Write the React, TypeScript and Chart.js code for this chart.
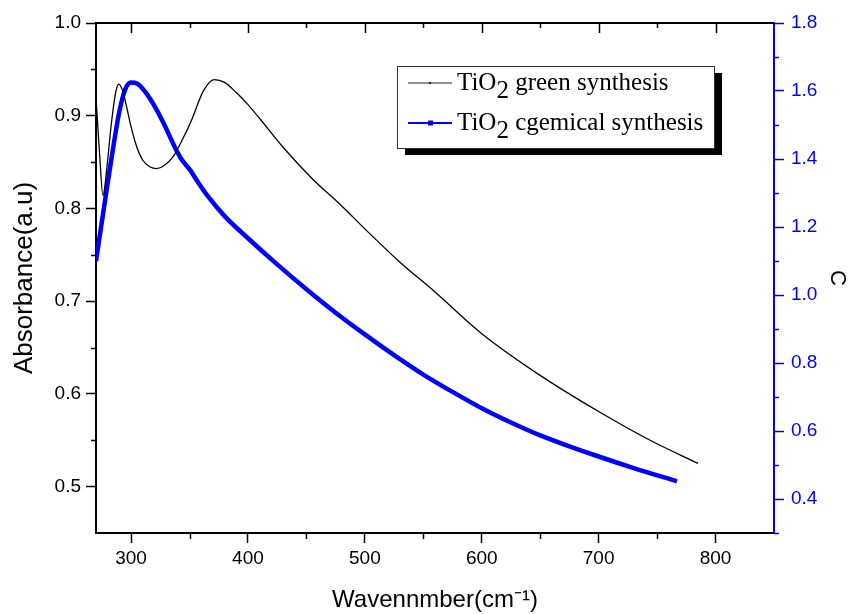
import React, { useEffect, useRef } from 'react';
import { Chart, registerables } from 'chart.js';

Chart.register(...registerables);

// ---- data ----
const greenWavenumber = [270, 273, 276, 279, 283, 287, 289.5, 293, 300, 305, 310, 316, 322, 328, 336, 343, 351, 362, 371, 380, 390, 400, 410, 430, 455, 480, 500, 530, 560, 600, 650, 700, 744, 785];
const greenAbsorbance = [0.92, 0.86, 0.814, 0.84, 0.89, 0.926, 0.934, 0.926, 0.888, 0.866, 0.852, 0.845, 0.843, 0.846, 0.856, 0.872, 0.893, 0.927, 0.939, 0.936, 0.925, 0.912, 0.897, 0.866, 0.832, 0.803, 0.778, 0.742, 0.71, 0.665, 0.62, 0.581, 0.55, 0.525];

const chemWavenumber = [270, 275, 280, 285, 290, 295, 300, 305, 312, 322, 330, 336, 343, 351, 358, 366, 380, 400, 425, 450, 475, 500, 525, 550, 575, 600, 625, 650, 675, 700, 730, 767];
const chemC = [1.10, 1.215, 1.33, 1.44, 1.54, 1.605, 1.625, 1.622, 1.598, 1.544, 1.49, 1.445, 1.40, 1.365, 1.328, 1.289, 1.232, 1.167, 1.09, 1.017, 0.948, 0.884, 0.823, 0.766, 0.715, 0.667, 0.625, 0.587, 0.555, 0.525, 0.491, 0.452];

const seriesNames = ['green synthesis', 'cgemical synthesis'];
const xTickLabels = ['300', '400', '500', '600', '700', '800'];
const yTickLabels = ['0.5', '0.6', '0.7', '0.8', '0.9', '1.0'];
const cTickLabels = ['0.4', '0.6', '0.8', '1.0', '1.2', '1.4', '1.6', '1.8'];
const xMinorTicks = [350, 450, 550, 650, 750];
const yMinorTicks = [0.55, 0.65, 0.75, 0.85, 0.95];
const cMinorTicks = [0.3, 0.5, 0.7, 0.9, 1.1, 1.3, 1.5, 1.7];

const xTitle = 'Wavennmber(cm\u207B\u00B9)';
const yTitle = 'Absorbance(a.u)';
const cTitle = 'C';

const BLUE = '#0000ff';
const TICK_FONT = '"Liberation Sans", Arial, sans-serif';
const TITLE_FONT = '"Liberation Sans", Arial, sans-serif';

// label for a tick value if it is one of the listed labels (exact match at the given step)
const labelFor = (v: number, list: string[], step: number, digits: number) => {
  const k = v / step;
  if (Math.abs(k - Math.round(k)) > 1e-6) return '';
  const s = v.toFixed(digits);
  return list.includes(s) ? s : '';
};

const axisDecor = {
  id: 'axisDecor',
  afterDatasetsDraw(chart: any) {
    const { ctx, chartArea: a, scales } = chart;
    const x = scales.x, y = scales.y, y1 = scales.y1;
    ctx.save();
    ctx.strokeStyle = '#000';
    ctx.lineWidth = 2;
    ctx.beginPath();
    ctx.moveTo(a.left - 1, a.top);
    ctx.lineTo(a.right, a.top);
    ctx.stroke();
    ctx.lineWidth = 1.5;
    ctx.beginPath();
    xTickLabels.forEach((l) => {
      const p = Math.round(x.getPixelForValue(Number(l))) + 0.5;
      ctx.moveTo(p, a.top);
      ctx.lineTo(p, a.top + 10);
    });
    xMinorTicks.forEach((v) => {
      const p = Math.round(x.getPixelForValue(v)) + 0.5;
      ctx.moveTo(p, a.top);
      ctx.lineTo(p, a.top + 5);
      ctx.moveTo(p, a.bottom);
      ctx.lineTo(p, a.bottom + 6);
    });
    yMinorTicks.forEach((v) => {
      const p = Math.round(y.getPixelForValue(v)) + 0.5;
      ctx.moveTo(a.left, p);
      ctx.lineTo(a.left - 5, p);
    });
    ctx.stroke();
    ctx.strokeStyle = BLUE;
    ctx.beginPath();
    cMinorTicks.forEach((v) => {
      const p = Math.round(y1.getPixelForValue(v)) + 0.5;
      ctx.moveTo(a.right, p);
      ctx.lineTo(a.right + 5, p);
    });
    ctx.stroke();
    ctx.restore();
  },
};

const boxLegend = {
  id: 'boxLegend',
  afterDraw(chart: any) {
    const { ctx } = chart;
    const bx = 397, by = 66, bw = 317, bh = 82;
    ctx.save();
    ctx.fillStyle = '#000';
    ctx.fillRect(bx + 8, by + 7, bw, bh);
    ctx.fillStyle = '#fff';
    ctx.fillRect(bx, by, bw, bh);
    ctx.strokeStyle = '#333';
    ctx.lineWidth = 1;
    ctx.strokeRect(bx + 0.5, by + 0.5, bw, bh);
    const rows = [by + 17, by + 57];
    const colors = ['#222', BLUE];
    rows.forEach((ry, i) => {
      ctx.strokeStyle = colors[i];
      ctx.lineWidth = i === 0 ? 1.2 : 2;
      ctx.beginPath();
      ctx.moveTo(bx + 11, ry);
      ctx.lineTo(bx + 55, ry);
      ctx.stroke();
      ctx.fillStyle = colors[i];
      if (i === 0) ctx.fillRect(bx + 32, ry - 1, 2, 2);
      else ctx.fillRect(bx + 31, ry - 2.5, 5, 5);
      ctx.fillStyle = '#000';
      ctx.font = '25px "Liberation Serif", "Times New Roman", serif';
      ctx.textBaseline = 'alphabetic';
      let tx = bx + 60;
      const base = ry + 7;
      ctx.fillText('TiO', tx, base);
      tx += ctx.measureText('TiO').width;
      ctx.fillText('2', tx, base + 8);
      tx += ctx.measureText('2').width;
      ctx.fillText(' ' + seriesNames[i], tx, base);
    });
    ctx.restore();
  },
};

export default function App() {
  const ref = useRef<HTMLCanvasElement | null>(null);

  useEffect(() => {
    if (!ref.current) return;
    const chart = new Chart(ref.current, {
      type: 'line',
      data: {
        datasets: [
          {
            label: 'TiO2 ' + seriesNames[0],
            data: greenWavenumber.map((v, i) => ({ x: v, y: greenAbsorbance[i] })),
            borderColor: '#000',
            borderWidth: 1.3,
            pointRadius: 0,
            cubicInterpolationMode: 'monotone',
            yAxisID: 'y',
          },
          {
            label: 'TiO2 ' + seriesNames[1],
            data: chemWavenumber.map((v, i) => ({ x: v, y: chemC[i] })),
            borderColor: BLUE,
            borderWidth: 4.5,
            pointRadius: 0,
            cubicInterpolationMode: 'monotone',
            yAxisID: 'y1',
          },
        ],
      },
      options: {
        animation: false,
        responsive: false,
        devicePixelRatio: 1,
        layout: { padding: { top: 23, left: 0, right: 0, bottom: 0 } },
        plugins: { legend: { display: false }, tooltip: { enabled: false } },
        scales: {
          x: {
            type: 'linear',
            min: 270,
            max: 850,
            afterFit: (s: any) => { s.height = 81; },
            ticks: {
              stepSize: 50,
              includeBounds: false,
              autoSkip: false,
              maxRotation: 0,
              padding: 4,
              color: '#000',
              font: { family: TICK_FONT, size: 19 },
              callback: (v: any) => labelFor(Number(v), xTickLabels, 100, 0),
            },
            grid: {
              drawOnChartArea: false,
              drawTicks: true,
              tickLength: 10,
              tickWidth: 1.5,
              tickColor: (c: any) => (c.tick && labelFor(c.tick.value, xTickLabels, 100, 0) ? '#000' : 'rgba(0,0,0,0)'),
            },
            border: { display: true, color: '#000', width: 2 },
            title: {
              display: true,
              text: xTitle,
              color: '#000',
              font: { family: TITLE_FONT, size: 24, lineHeight: 1 },
              padding: { top: 0, bottom: 2 },
            },
          },
          y: {
            type: 'linear',
            position: 'left',
            min: 0.45,
            max: 1.0,
            afterFit: (s: any) => { s.width = 96; },
            ticks: {
              stepSize: 0.05,
              autoSkip: false,
              padding: 5,
              color: '#000',
              font: { family: TICK_FONT, size: 19 },
              callback: (v: any) => labelFor(Number(v), yTickLabels, 0.1, 1),
            },
            grid: {
              drawOnChartArea: false,
              drawTicks: true,
              tickLength: 10,
              tickWidth: 1.5,
              tickColor: (c: any) => (c.tick && labelFor(c.tick.value, yTickLabels, 0.1, 1) ? '#000' : 'rgba(0,0,0,0)'),
            },
            border: { display: true, color: '#000', width: 2 },
            title: {
              display: true,
              text: yTitle,
              color: '#000',
              font: { family: TITLE_FONT, size: 26, lineHeight: 1 },
              padding: { top: 12, bottom: 0 },
            },
          },
          y1: {
            type: 'linear',
            position: 'right',
            min: 0.3,
            max: 1.8,
            afterFit: (s: any) => { s.width = 74; },
            ticks: {
              stepSize: 0.1,
              autoSkip: false,
              padding: 7,
              color: BLUE,
              font: { family: TICK_FONT, size: 19 },
              callback: (v: any) => labelFor(Number(v), cTickLabels, 0.2, 1),
            },
            grid: {
              drawOnChartArea: false,
              drawTicks: true,
              tickLength: 10,
              tickWidth: 1.5,
              tickColor: (c: any) => (c.tick && labelFor(c.tick.value, cTickLabels, 0.2, 1) ? BLUE : 'rgba(0,0,0,0)'),
            },
            border: { display: true, color: BLUE, width: 2 },
            title: {
              display: true,
              text: cTitle,
              color: '#000',
              font: { family: TITLE_FONT, size: 22, lineHeight: 1 },
              padding: { top: 0, bottom: 0 },
            },
          },
        },
      } as any,
      plugins: [axisDecor, boxLegend],
    });
    return () => chart.destroy();
  }, []);

  return (
    <div style={{ position: 'absolute', left: 0, top: 0, width: 848, height: 614, background: '#fff' }}>
      <canvas ref={ref} width={848} height={614} style={{ display: 'block', width: 848, height: 614 }} />
    </div>
  );
}
